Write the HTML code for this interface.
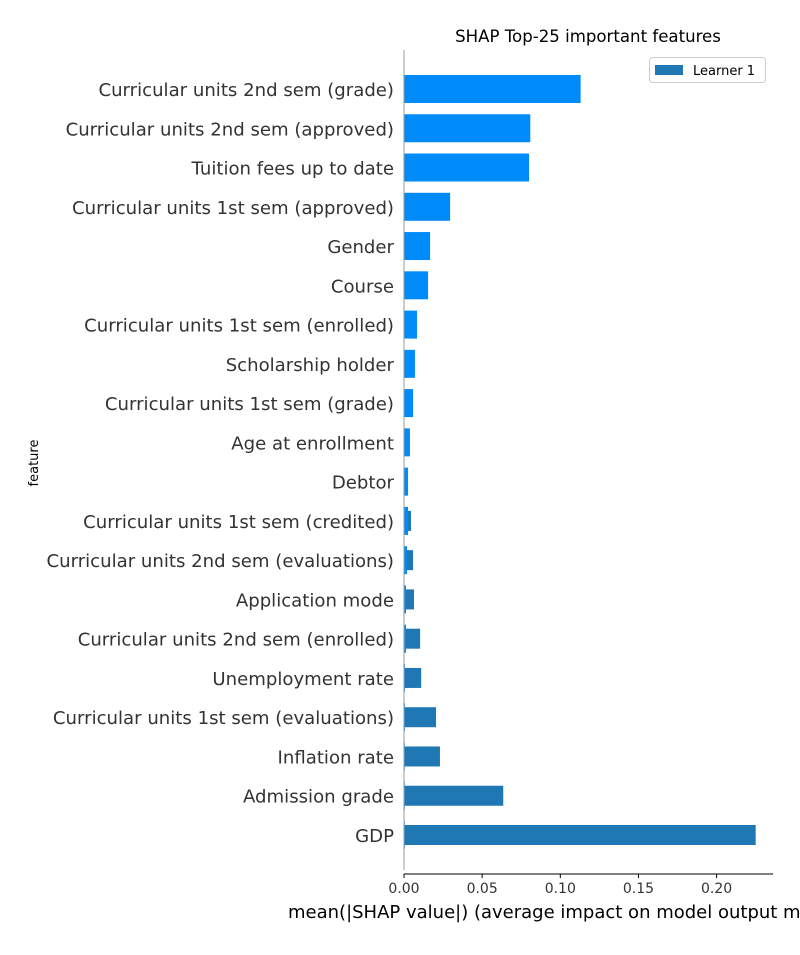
<!DOCTYPE html>
<html><head><meta charset="utf-8"><style>
body{margin:0;background:#fff}
svg text{font-family:"DejaVu Sans","Liberation Sans",sans-serif}
</style></head><body>
<svg id="chart" width="800" height="950">
<text x="588" y="42" font-size="16.6" text-anchor="middle" fill="#000">SHAP Top-25 important features</text>
<text transform="translate(38,463) rotate(-90)" font-size="13" text-anchor="middle" fill="#000">feature</text>
<text x="288" y="918" font-size="18" fill="#000">mean(|SHAP value|) (average impact on model output magnitude)</text>
<g id="bars"></g>
<line x1="404" y1="50" x2="404" y2="870" stroke="#999" stroke-width="1"/>
<line x1="404" y1="874" x2="773" y2="874" stroke="#000" stroke-width="1"/>
<g id="ticks"></g>
<g>
<rect x="649.5" y="57.5" width="116" height="25" rx="3" fill="#fff" stroke="#ccc"/>
<rect x="655" y="65" width="28" height="10" fill="#1f77b4"/>
<text x="693" y="75" font-size="13" fill="#000">Learner 1</text>
</g>
</svg>
<script>
const features=["Curricular units 2nd sem (grade)","Curricular units 2nd sem (approved)","Tuition fees up to date","Curricular units 1st sem (approved)","Gender","Course","Curricular units 1st sem (enrolled)","Scholarship holder","Curricular units 1st sem (grade)","Age at enrollment","Debtor","Curricular units 1st sem (credited)","Curricular units 2nd sem (evaluations)","Application mode","Curricular units 2nd sem (enrolled)","Unemployment rate","Curricular units 1st sem (evaluations)","Inflation rate","Admission grade","GDP"];
const brightValues=[0.113,0.0808,0.080,0.0295,0.0167,0.0154,0.0083,0.007,0.0058,0.0038,0.0026,0.0026,0.0019,0.0013,0.0013,0.0006,0.0006,0.0003,0.0002,0.0001];
const learnerValues=[0,0,0,0,0,0,0,0,0,0,0,0.0045,0.0058,0.0064,0.0103,0.011,0.0205,0.023,0.0635,0.225];
const xTicks=[0,0.05,0.10,0.15,0.20];
const xTickLabels=["0.00","0.05","0.10","0.15","0.20"];
const NS="http://www.w3.org/2000/svg";
const x=v=>404+v*1563;
const y=i=>89+i*(835-89)/19;
const bars=document.getElementById('bars');
features.forEach((f,i)=>{
  const t=document.createElementNS(NS,'text');
  t.setAttribute('x',394);t.setAttribute('y',y(i)+7);t.setAttribute('font-size','18.1');
  t.setAttribute('text-anchor','end');t.setAttribute('fill','#333');t.textContent=f;
  
  
  bars.appendChild(t);
  if(learnerValues[i]>0){
    const r=document.createElementNS(NS,'rect');
    r.setAttribute('x',x(0));r.setAttribute('y',y(i)-10);r.setAttribute('width',x(learnerValues[i])-x(0));r.setAttribute('height',20);r.setAttribute('fill','#1f77b4');
    
    
    bars.appendChild(r);
  }
  const b=document.createElementNS(NS,'rect');
  b.setAttribute('x',x(0));b.setAttribute('y',y(i)-14);b.setAttribute('width',Math.max(x(brightValues[i])-x(0),0.8));b.setAttribute('height',28);b.setAttribute('fill','#008bfb');
  
  
  bars.appendChild(b);
});
const tk=document.getElementById('ticks');
xTicks.forEach((v,i)=>{
  const l=document.createElementNS(NS,'line');
  l.setAttribute('x1',x(v));l.setAttribute('x2',x(v));l.setAttribute('y1',874);l.setAttribute('y2',878);l.setAttribute('stroke','#000');
  
  
  tk.appendChild(l);
  const t=document.createElementNS(NS,'text');
  t.setAttribute('x',x(v));t.setAttribute('y',893);t.setAttribute('font-size','14');t.setAttribute('text-anchor','middle');t.setAttribute('fill','#333');t.textContent=xTickLabels[i];
  
  
  tk.appendChild(t);
});
</script>
</body></html>
